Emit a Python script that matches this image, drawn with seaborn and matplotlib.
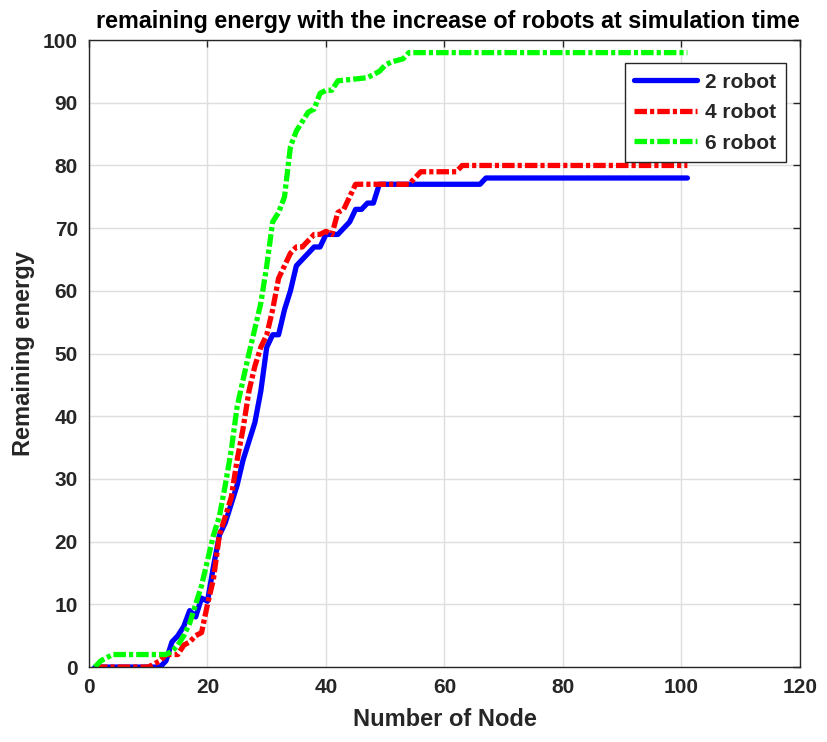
import pandas as pd
import matplotlib
matplotlib.use('Agg')
import matplotlib.pyplot as plt
import seaborn as sns

# breakpoints (x = number of node, y = remaining energy)
nodes_2 = [1, 12, 13, 14, 15, 16, 17, 18, 19, 20, 21, 22, 23, 24, 25, 26, 27, 28, 29, 30,
           31, 32, 33, 34, 35, 36, 37, 38, 39, 40, 41, 42, 43, 44, 45, 46, 47, 48, 49, 66, 67, 101]
energy_2 = [0, 0, 1, 4, 5, 6.5, 9, 8, 11, 10.5, 16, 21, 23, 26, 29, 33, 36, 39, 44, 51,
            53, 53, 57, 60, 64, 65, 66, 67, 67, 69, 69, 69, 70, 71, 73, 73, 74, 74, 77, 77, 78, 78]

nodes_4 = [1, 10, 11, 12, 13, 14, 15, 16, 17, 18, 19, 20, 21, 22, 23, 24, 25, 26, 27, 28, 29,
           30, 31, 32, 33, 34, 35, 36, 37, 38, 39, 40, 41, 42, 43, 44, 45, 54, 55, 56, 62, 63, 101]
energy_4 = [0, 0, 0.5, 1, 2, 2, 2, 3.5, 4, 5, 5.5, 10, 14, 21, 24, 27, 33, 38, 44, 48, 51,
            53, 57, 62, 64, 66, 67, 67, 68, 69, 69, 69.5, 69, 72.5, 73, 75, 77, 77, 78, 79, 79, 80, 80]

nodes_6 = [1, 2, 3, 4, 13, 14, 15, 16, 17, 18, 19, 20, 21, 22, 23, 24, 25, 26, 27, 28, 29,
           30, 31, 32, 33, 34, 35, 36, 37, 38, 39, 40, 41, 42, 47, 48, 49, 50, 51, 53, 54, 101]
energy_6 = [0, 1, 1.5, 2, 2, 2.5, 3.5, 5, 7, 10, 13, 17, 21, 24, 29, 34.5, 41.5, 45.8, 50, 54, 58,
            64, 71, 72.5, 75, 83, 85.5, 87, 88.5, 89, 91.5, 92, 92, 93.5, 94, 94.5, 95, 96, 96.5, 97, 98, 98]

labels = ['2 robot', '4 robot', '6 robot']
colors = ['#0000ff', '#ff0000', '#00ff00']

sns.set_style('white')
plt.rcParams['font.family'] = ['Liberation Sans', 'DejaVu Sans']
plt.rcParams['font.weight'] = 'bold'
plt.rcParams['lines.scale_dashes'] = False

fig = plt.figure(figsize=(8.27, 7.42), dpi=100)
ax = fig.add_axes([0.1076, 0.101, 0.8597, 0.845])

styles = ['-', (0, (9, 2.2, 3, 2.2)), (0, (9, 2.2, 3, 2.2))]
for xs, ys, lab, col, ls in zip([nodes_2, nodes_4, nodes_6], [energy_2, energy_4, energy_6],
                                labels, colors, styles):
    df = pd.DataFrame({'Node': xs, 'Energy': ys})
    sns.lineplot(data=df, x='Node', y='Energy', color=col, linewidth=3.8,
                 linestyle=ls, label=lab, ax=ax, estimator=None, sort=False)

ax.set_xlim(0, 120)
ax.set_ylim(0, 100)
ax.set_xticks(range(0, 121, 20))
ax.set_yticks(range(0, 101, 10))
ax.grid(True, color='#dedede', linewidth=1)
ax.tick_params(direction='in', length=5, width=1, top=True, right=True,
               labelsize=15, colors='#262626', pad=8)
for sp in ax.spines.values():
    sp.set_color('#262626')
    sp.set_linewidth(1)

ax.set_title('remaining energy with the increase of robots at simulation time',
             fontsize=16.8, fontweight='bold', color='black', pad=9, x=0.505)
ax.set_xlabel('Number of Node', fontsize=17, fontweight='bold', color='#262626', labelpad=8)
ax.set_ylabel('Remaining energy', fontsize=17, fontweight='bold', color='#262626', labelpad=6)

leg = ax.legend(loc='upper right', bbox_to_anchor=(0.98, 0.963), borderaxespad=0,
                fontsize=15, frameon=True, fancybox=False, handlelength=3.0,
                borderpad=0.45, labelspacing=0.55, handletextpad=0.4)
leg.get_frame().set_edgecolor('#262626')
leg.get_frame().set_linewidth(1)
leg.get_frame().set_alpha(1)

fig.savefig('out.png', dpi=100)
